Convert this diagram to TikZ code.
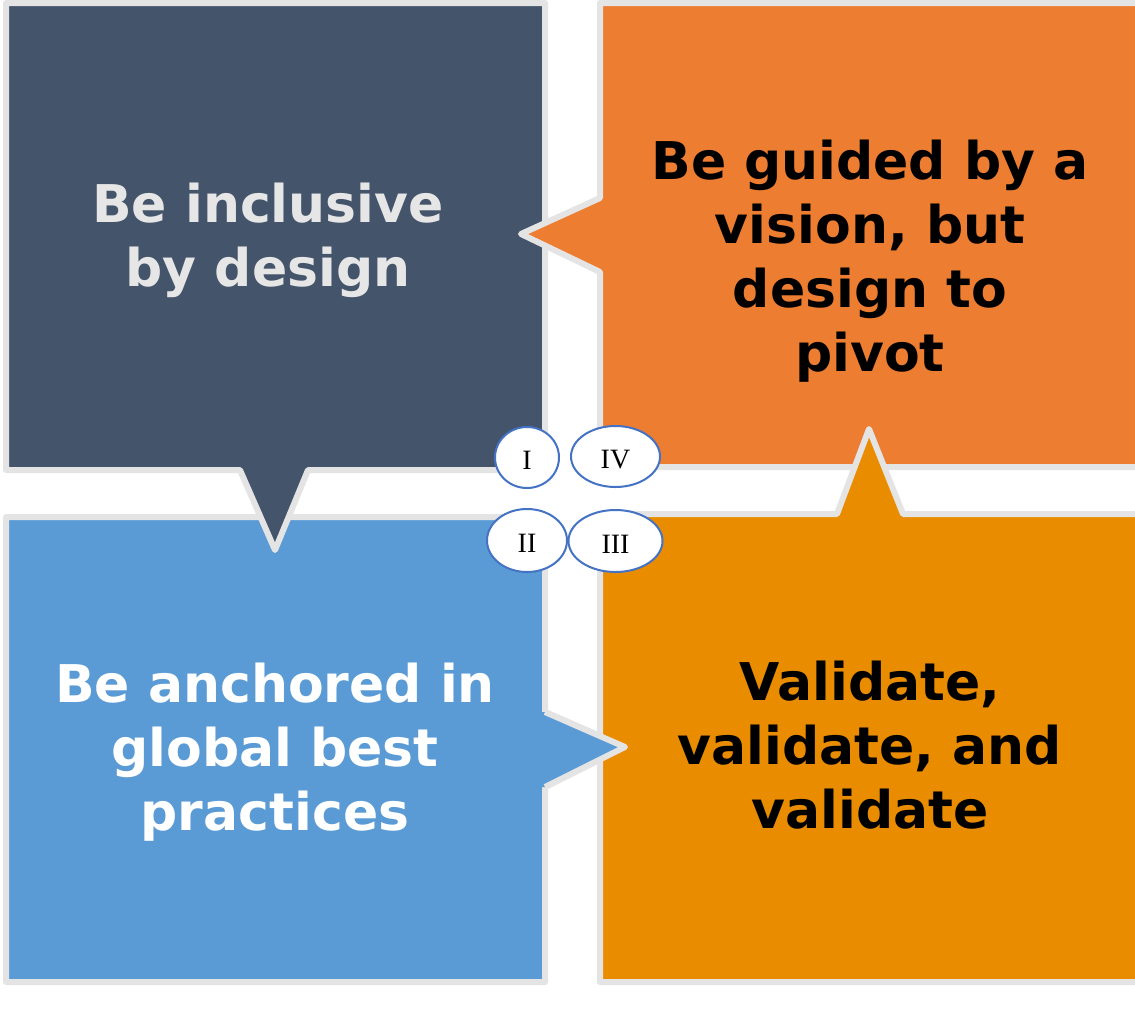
\documentclass[tikz,border=0pt]{standalone}
\usepackage{fontspec}
\setmainfont{Liberation Serif}
\newfontfamily\boxfont{DejaVu Sans}
\usetikzlibrary{shapes.geometric}
\definecolor{slate}{HTML}{44546A}
\definecolor{orangeA}{HTML}{ED7D31}
\definecolor{blueA}{HTML}{5B9BD5}
\definecolor{orangeB}{HTML}{EA8C00}
\definecolor{rim}{HTML}{E4E4E4}
\definecolor{ringblue}{HTML}{4472C4}
\definecolor{lightgray}{HTML}{E7E6E6}
\tikzset{
  panel/.style={draw=rim, line width=6pt, line join=round},
  bigtext/.style={align=center, font=\boxfont\bfseries\fontsize{52}{64}\selectfont, inner sep=0pt},
  badge/.style={ellipse, draw=ringblue, line width=2pt, fill=white, inner sep=0pt,
    font=\fontsize{28}{30}\selectfont},
}
\newcommand{\badgelabel}[1]{\raisebox{-3pt}[\height][\depth]{#1}}
\begin{document}
\begin{tikzpicture}[x=1pt,y=-1pt]
\clip (0,0) rectangle (1135,1026);
\fill[white] (0,0) rectangle (1135,1026);
% bottom-left
\path[panel, fill=blueA] (6,517) -- (545,517) -- (545,712) -- (625,747) -- (545,787) -- (545,982) -- (6,982) -- cycle;
% top-left
\path[panel, fill=slate] (6,3) -- (545,3) -- (545,470) -- (308,470) -- (275,550) -- (240,470) -- (6,470) -- cycle;
% top-right
\path[panel, fill=orangeA] (600,3) -- (1150,3) -- (1150,467) -- (600,467) -- (600,272) -- (521,234) -- (600,198) -- cycle;
% bottom-right
\path[panel, fill=orangeB] (600,514) -- (837,514) -- (869,429) -- (903,514) -- (1150,514) -- (1150,982) -- (600,982) -- cycle;
% bottom-left pointer on top
\fill[blueA] (538,712) -- (545,712) -- (625,747) -- (545,787) -- (538,787) -- cycle;
\draw[panel] (545,712) -- (625,747) -- (545,787);

\node[bigtext, text=lightgray] (tl) at (268,240) {Be inclusive\\by design};
\node[bigtext, text=black] (tr) at (870,261) {Be guided by a\\vision, but\\design to\\pivot};
\node[bigtext, text=white] (bl) at (275,752) {Be anchored in\\global best\\practices};
\node[bigtext, text=black] (br) at (870,745) {Validate,\\validate, and\\validate};

\node[badge, minimum width=64pt, minimum height=61pt] (b1) at (527,457.5) {\badgelabel{I}};
\node[badge, minimum width=89pt, minimum height=61pt] (b4) at (615.5,456.5) {\badgelabel{IV}};
\node[badge, minimum width=80pt, minimum height=63pt] (b2) at (527,540.5) {\badgelabel{II}};
\node[badge, minimum width=94pt, minimum height=62pt] (b3) at (615.5,541) {\badgelabel{III}};
\end{tikzpicture}
\end{document}
